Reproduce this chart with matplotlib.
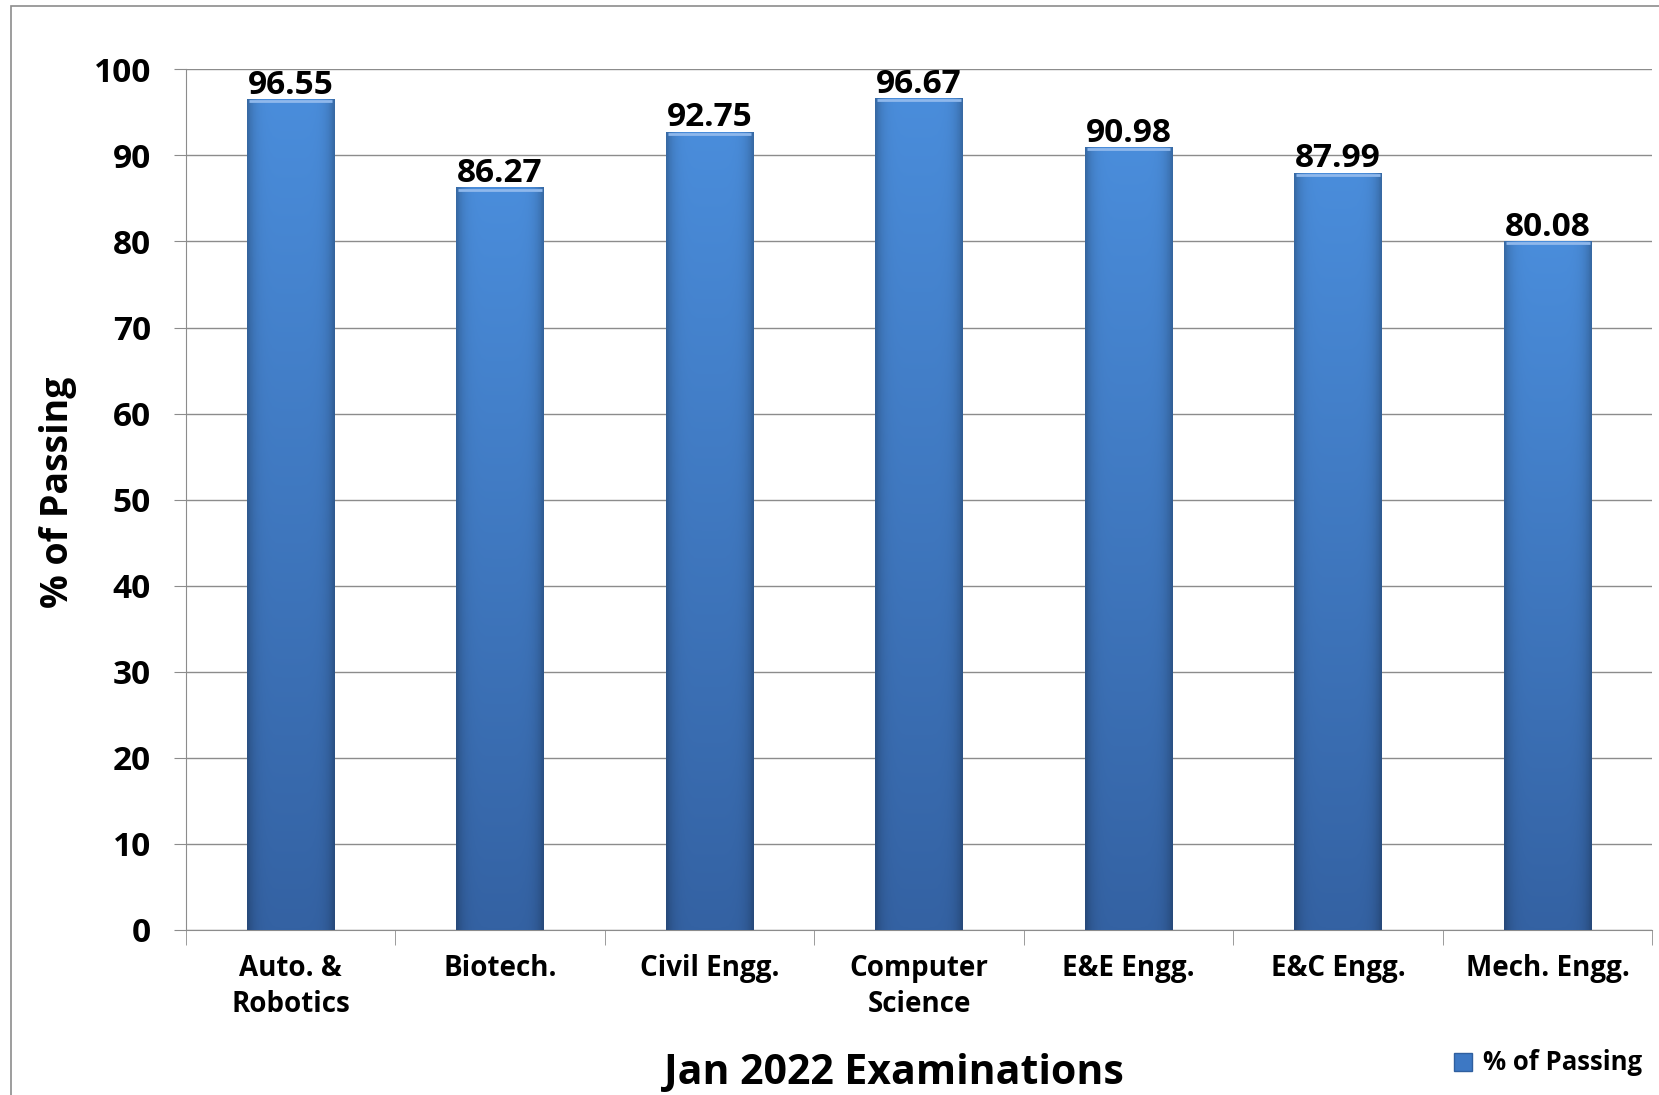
import matplotlib.pyplot as plt
import numpy as np
from matplotlib.patches import Rectangle
from matplotlib.colors import to_rgb

# données
categories = ['Auto. &\nRobotics', 'Biotech.', 'Civil Engg.', 'Computer\nScience',
              'E&E Engg.', 'E&C Engg.', 'Mech. Engg.']
passing = [96.55, 86.27, 92.75, 96.67, 90.98, 87.99, 80.08]
y_ticks = [0, 10, 20, 30, 40, 50, 60, 70, 80, 90, 100]

plt.rcParams['font.family'] = ['Open Sans', 'DejaVu Sans']
plt.rcParams['font.weight'] = 'bold'

fig = plt.figure(figsize=(16.59, 10.95), dpi=100)
ax = fig.add_axes([0.112, 0.1507, 0.884, 0.786])

# cadre gris autour du graphique
fig.patches.append(Rectangle((11 / 1659, -0.1), 1.2, 1 - 6 / 1095 + 0.1,
                             transform=fig.transFigure, fill=False,
                             edgecolor='#8c8c8c', linewidth=1.2))

x = np.arange(len(categories))
width = 0.42
bars = ax.bar(x, passing, width, color='#3d78c4', label='% of Passing', zorder=2)

# dégradé bleu dans chaque barre
top = np.array(to_rgb('#4a8ddb'))
bottom = np.array(to_rgb('#3462a3'))
t = np.linspace(0, 1, 200)[:, None]
s = np.linspace(0, 1, 60)[None, :]
edge = 1 - 0.25 * (np.abs(s - 0.5) * 2) ** 6
grad = (bottom[None, None, :] * (1 - t[..., None]) + top[None, None, :] * t[..., None])
grad = grad * edge[..., None]
for bar in bars:
    bx, bw, bh = bar.get_x(), bar.get_width(), bar.get_height()
    im = ax.imshow(grad, extent=(bx, bx + bw, 0, bh), origin='lower',
                   aspect='auto', zorder=3)
    im.set_clip_path(bar)
    ax.plot([bx + 0.01, bx + bw - 0.01], [bh - 0.25, bh - 0.25],
            color='#8fb8ec', linewidth=2, zorder=4, solid_capstyle='butt')

for bar in bars:
    h = bar.get_height()
    ax.annotate(f'{h:.2f}', xy=(bar.get_x() + bar.get_width() / 2, h),
                xytext=(0, -2), textcoords='offset points',
                ha='center', va='bottom', fontsize=24, fontweight='bold', zorder=5)

ax.set_xlim(-0.5, len(categories) - 0.5)
ax.set_ylim(0, 100)
ax.set_yticks(y_ticks)
ax.tick_params(axis='y', labelsize=24, length=9, color='#8c8c8c', pad=16)
ax.set_xticks(x)
ax.set_xticklabels(categories, fontsize=20, fontweight='bold', linespacing=1.35)
ax.tick_params(axis='x', length=0, pad=17)
ax.set_xticks(np.arange(-0.5, len(categories)), minor=True)
ax.tick_params(axis='x', which='minor', length=11, color='#8c8c8c')

ax.grid(axis='y', color='#8c8c8c', linewidth=1, zorder=0)
ax.set_axisbelow(True)
for side in ['top', 'right']:
    ax.spines[side].set_visible(False)
ax.spines['left'].set_color('#8c8c8c')
ax.spines['bottom'].set_color('#8c8c8c')

ax.set_ylabel('% of Passing', fontsize=27, fontweight='bold', va='center')
ax.yaxis.set_label_coords(-0.0873, 0.509)
ax.set_xlabel('Jan 2022 Examinations', fontsize=29.5, fontweight='bold', va='center')
ax.xaxis.set_label_coords(0.483, -0.167)

handle = Rectangle((0, 0), 1, 1, facecolor='#3d78c4', edgecolor='#2f5f9f')
fig.legend([handle], ['% of Passing'], loc='center right',
           bbox_to_anchor=(1652 / 1659, 1 - 1063 / 1095), frameon=False,
           borderaxespad=0, fontsize=18.5, handlelength=0.7, handleheight=0.7,
           handletextpad=0.4)

fig.savefig('out.png', dpi=100)
